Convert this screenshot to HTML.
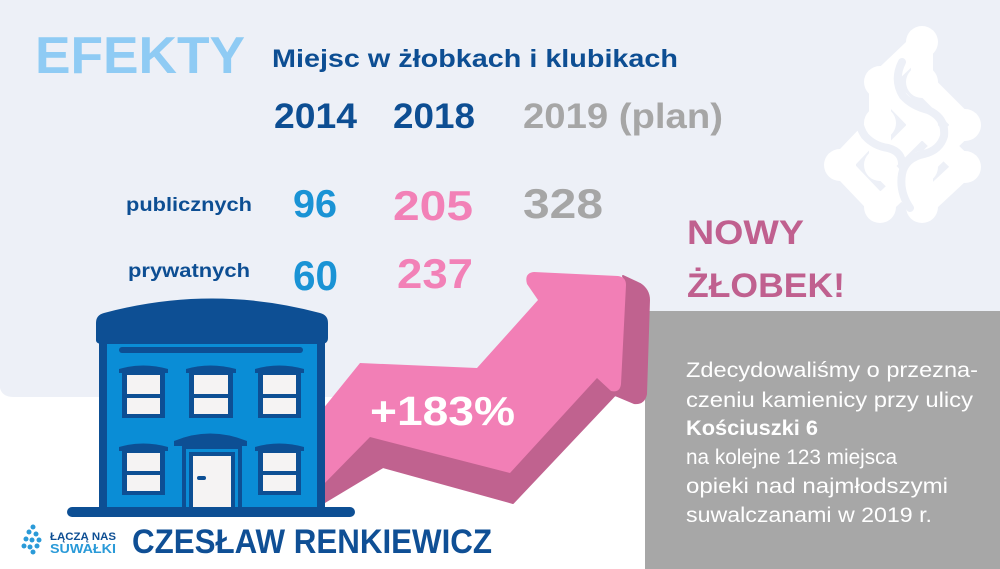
<!DOCTYPE html>
<html><head><meta charset="utf-8">
<style>
html,body{margin:0;padding:0;background:#fff;}
svg{display:block;}
text{font-family:"Liberation Sans","DejaVu Sans",sans-serif;}
</style></head>
<body>
<svg width="1000" height="569" viewBox="0 0 1000 569" xmlns="http://www.w3.org/2000/svg">
<!-- backgrounds -->
<rect x="0" y="0" width="1000" height="569" fill="#ffffff"/>
<path d="M0 0 H1000 V397 H14 Q2 397 0 388 Z" fill="#edf0f7"/>

<!-- white logo top right -->
<g stroke="#ffffff" stroke-width="22" stroke-linecap="round" fill="none">
  <line x1="922" y1="42" x2="880" y2="82"/>
  <line x1="922" y1="42" x2="922" y2="82"/>
  <line x1="922" y1="82" x2="965" y2="125"/>
  <line x1="880" y1="82" x2="880" y2="123"/>
  <line x1="880" y1="82" x2="922" y2="125"/>
  <line x1="880" y1="123" x2="840" y2="165"/>
  <line x1="922" y1="125" x2="965" y2="167"/>
  <line x1="922" y1="125" x2="880" y2="167"/>
  <line x1="880" y1="123" x2="880" y2="165"/>
  <line x1="965" y1="125" x2="922" y2="167"/>
  <line x1="840" y1="165" x2="880" y2="207"/>
  <line x1="880" y1="165" x2="922" y2="207"/>
  <line x1="922" y1="167" x2="880" y2="207"/>
  <line x1="922" y1="167" x2="922" y2="207"/>
  <line x1="965" y1="167" x2="922" y2="207"/>
</g>
<g fill="#ffffff">
  <circle cx="922" cy="42" r="16"/>
  <circle cx="880" cy="82" r="16"/>
  <circle cx="922" cy="82" r="16"/>
  <circle cx="965" cy="125" r="16"/>
  <circle cx="880" cy="123" r="16"/>
  <circle cx="922" cy="125" r="16"/>
  <circle cx="840" cy="165" r="16"/>
  <circle cx="880" cy="165" r="16"/>
  <circle cx="922" cy="167" r="16"/>
  <circle cx="965" cy="167" r="16"/>
  <circle cx="880" cy="207" r="16"/>
  <circle cx="922" cy="207" r="16"/>
</g>
<g stroke="#edf0f7" stroke-width="8" fill="none" stroke-linecap="round">
  <path d="M902 62 Q893 80 903 96 Q912 106 928 110 Q946 118 944 136 Q940 150 924 154 Q905 158 902 174 Q899 192 910 208"/>
  <path d="M862 104 Q855 122 865 136 Q874 146 888 148 Q903 152 902 166"/>
</g>

<!-- title texts -->
<text x="35" y="73" font-size="52" font-weight="bold" fill="#8fcbf4" textLength="210" lengthAdjust="spacingAndGlyphs">EFEKTY</text>
<text x="272" y="67" font-size="25" font-weight="bold" fill="#0d4e93" textLength="406" lengthAdjust="spacingAndGlyphs">Miejsc w żłobkach i klubikach</text>

<text x="274" y="128" font-size="35" font-weight="bold" fill="#0d4e93" textLength="83" lengthAdjust="spacingAndGlyphs">2014</text>
<text x="393" y="128" font-size="35" font-weight="bold" fill="#0d4e93" textLength="82" lengthAdjust="spacingAndGlyphs">2018</text>
<text x="523" y="128" font-size="35" font-weight="bold" fill="#a6a6a6" textLength="200" lengthAdjust="spacingAndGlyphs">2019 (plan)</text>

<text x="126" y="211" font-size="19" font-weight="bold" fill="#0d4e93" textLength="126" lengthAdjust="spacingAndGlyphs">publicznych</text>
<text x="128" y="277" font-size="19" font-weight="bold" fill="#0d4e93" textLength="122" lengthAdjust="spacingAndGlyphs">prywatnych</text>

<text x="293" y="217" font-size="39" font-weight="bold" fill="#1a93d5" textLength="44" lengthAdjust="spacingAndGlyphs">96</text>
<text x="393" y="220" font-size="42" font-weight="bold" fill="#f281b7" textLength="80" lengthAdjust="spacingAndGlyphs">205</text>
<text x="523" y="218" font-size="42" font-weight="bold" fill="#a6a6a6" textLength="80" lengthAdjust="spacingAndGlyphs">328</text>
<text x="293" y="290" font-size="42" font-weight="bold" fill="#1a93d5" textLength="45" lengthAdjust="spacingAndGlyphs">60</text>
<text x="397" y="288" font-size="42" font-weight="bold" fill="#f281b7" textLength="76" lengthAdjust="spacingAndGlyphs">237</text>

<text x="687" y="244" font-size="34" font-weight="bold" fill="#c0608f" textLength="117" lengthAdjust="spacingAndGlyphs">NOWY</text>
<text x="687" y="297" font-size="34" font-weight="bold" fill="#c0608f" textLength="158" lengthAdjust="spacingAndGlyphs">ŻŁOBEK!</text>

<!-- gray box -->
<rect x="645" y="311" width="355" height="258" fill="#a7a7a7"/>
<g fill="#ffffff" font-size="21">
<text x="686" y="377" textLength="292" lengthAdjust="spacingAndGlyphs">Zdecydowaliśmy o przezna-</text>
<text x="686" y="407" textLength="287" lengthAdjust="spacingAndGlyphs">czeniu kamienicy przy ulicy</text>
<text x="686" y="435" font-weight="bold" textLength="132" lengthAdjust="spacingAndGlyphs">Kościuszki 6</text>
<text x="686" y="464" textLength="211" lengthAdjust="spacingAndGlyphs">na kolejne 123 miejsca</text>
<text x="686" y="493" textLength="262" lengthAdjust="spacingAndGlyphs">opieki nad najmłodszymi</text>
<text x="686" y="522" textLength="246" lengthAdjust="spacingAndGlyphs">suwalczanami w 2019 r.</text>
</g>

<!-- arrow -->
<path d="M318 490 L370 437 L510 473 L597 378 L612 392 L626 283 L623 276 L640 284 Q649 290 649 300 L646 394 Q644 404 634 403 L615 395 L513 503 L383 467 L318 506 Z" fill="#c0628f" stroke="#c0628f" stroke-width="2" stroke-linejoin="round"/>
<path d="M318 415 L360 363 L477 368 L538 300 L527 284 Q524 273 534 272 L618 276 Q626 277 626 285 L621 384 Q620 393 611 391 L597 378 L510 473 L370 437 L318 490 Z" fill="#f27fb6"/>
<text x="370" y="425" font-size="41" font-weight="bold" fill="#ffffff" textLength="145" lengthAdjust="spacingAndGlyphs">+183%</text>

<!-- building -->
<rect x="99" y="338" width="226" height="172" fill="#0d4f94"/>
<rect x="107" y="344" width="210" height="166" fill="#0a8dd6"/>
<path d="M96 340 L96 323 Q96 315 104 313 Q212 284 320 313 Q328 315 328 323 L328 338 Q328 344 321 344 L103 344 Q96 344 96 340 Z" fill="#0d4f94"/>
<rect x="119" y="347" width="184" height="6" rx="3" fill="#0d4f94"/>
<g fill="#0d4f94">
  <path d="M119 373 L119 369 Q143 362 168 369 L168 373 Z"/>
  <path d="M186 373 L186 369 Q210 362 236 369 L236 373 Z"/>
  <path d="M255 373 L255 369 Q279 362 304 369 L304 373 Z"/>
  <rect x="122" y="371" width="43" height="47"/>
  <rect x="189" y="371" width="44" height="47"/>
  <rect x="258" y="371" width="43" height="47"/>
  <path d="M119 451 L119 447 Q143 440 168 447 L168 451 Z"/>
  <path d="M255 451 L255 447 Q279 440 304 447 L304 451 Z"/>
  <rect x="122" y="449" width="43" height="46"/>
  <rect x="258" y="449" width="43" height="46"/>
  <path d="M174 446 L174 441 Q210 426 247 441 L247 446 Z"/>
  <rect x="182" y="445" width="60" height="65"/>
</g>
<g fill="#f5f3f3">
  <rect x="127" y="375" width="33" height="19"/>
  <rect x="127" y="398" width="33" height="16"/>
  <rect x="194" y="375" width="34" height="19"/>
  <rect x="194" y="398" width="34" height="16"/>
  <rect x="263" y="375" width="33" height="19"/>
  <rect x="263" y="398" width="33" height="16"/>
  <rect x="127" y="453" width="33" height="18"/>
  <rect x="127" y="475" width="33" height="16"/>
  <rect x="263" y="453" width="33" height="18"/>
  <rect x="263" y="475" width="33" height="16"/>
</g>
<rect x="186" y="449" width="52" height="61" fill="#0a8dd6"/>
<rect x="189" y="452" width="46" height="58" fill="#0d4f94"/>
<rect x="193" y="456" width="38" height="54" fill="#f5f3f3"/>
<rect x="197" y="476" width="9" height="4" rx="2" fill="#0d4f94"/>
<rect x="67" y="507" width="288" height="10" rx="5" fill="#0d4f94"/>

<!-- bottom logo -->
<g fill="#2a9ad8">
  <circle cx="33" cy="527" r="2.5"/>
  <circle cx="29" cy="532" r="2.5"/>
  <circle cx="36" cy="534" r="2.5"/>
  <circle cx="26" cy="539" r="2.5"/>
  <circle cx="32" cy="540" r="2.5"/>
  <circle cx="39" cy="540" r="2.5"/>
  <circle cx="24" cy="546" r="2.5"/>
  <circle cx="30" cy="547" r="2.5"/>
  <circle cx="37" cy="546" r="2.5"/>
  <circle cx="33" cy="552" r="2.5"/>
</g>
<text x="50" y="540" font-size="11" font-weight="bold" fill="#0d4e93" textLength="66" lengthAdjust="spacingAndGlyphs">ŁĄCZĄ NAS</text>
<text x="50" y="553" font-size="13" font-weight="bold" fill="#2a9ad8" textLength="66" lengthAdjust="spacingAndGlyphs">SUWAŁKI</text>
<text x="132" y="553" font-size="34" font-weight="bold" fill="#0f4f95" textLength="360" lengthAdjust="spacingAndGlyphs">CZESŁAW RENKIEWICZ</text>
</svg>
</body></html>
